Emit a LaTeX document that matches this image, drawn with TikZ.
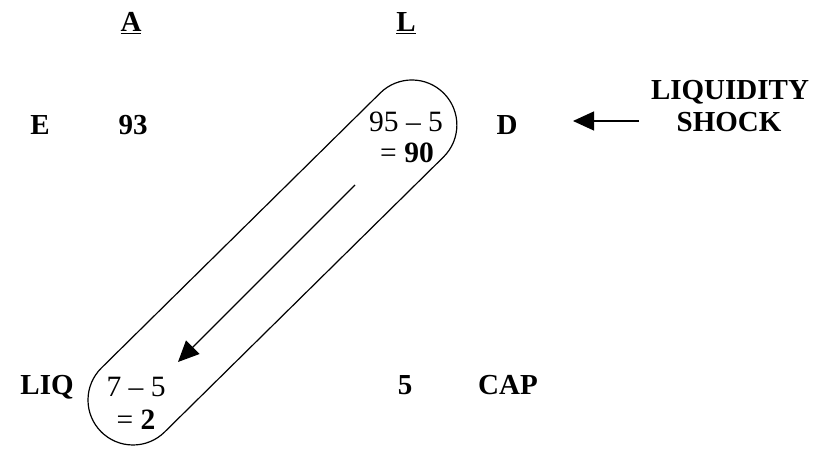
\documentclass[tikz,border=0pt]{standalone}
\usepackage{fontspec}
\setmainfont{Liberation Serif}
\usetikzlibrary{arrows.meta}
\begin{document}
\begin{tikzpicture}[x=1pt,y=1pt,
  lbl/.style={font=\fontsize{29}{32}\selectfont\bfseries, inner sep=0pt, anchor=base},
  num/.style={font=\fontsize{29.5}{32}\selectfont, inner sep=0pt, anchor=base},
  conn/.style={line width=1.2pt, -{Triangle[length=21pt,width=19pt]}},
  capsule/.style={line width=1.2pt}]
\useasboundingbox (0,0) rectangle (815,449);
% headers
\node[lbl] (A) at (131,417) {\underline{A}};
\node[lbl] (L) at (406,417) {\underline{L}};
% top row
\node[lbl] (E) at (40,314) {E};
\node[lbl] (n93) at (133,314) {93};
\node[num] (d1) at (406,317) {95 \textendash\ 5};
\node[num] (d2) at (407,286) {= \textbf{90}};
\node[lbl] (D) at (507,314) {D};
\node[lbl] (liq1) at (730,349) {LIQUIDITY};
\node[lbl] (liq2) at (729,317) {SHOCK};
% bottom row
\node[lbl] (LIQ) at (47,54) {LIQ};
\node[num] (l1) at (136,52) {7 \textendash\ 5};
\node[num] (l2) at (136,19) {= \textbf{2}};
\node[lbl] (n5) at (405,54) {5};
\node[lbl] (CAP) at (508,54) {CAP};
% capsule
\draw[capsule, shift={(133,49)}, rotate=44.6, rounded corners=45pt] (-45,-45) rectangle (436.7,45);
% arrows
\coordinate (s1) at (639,328);
\coordinate (s2) at (573,328);
\draw[conn] (s1) -- (s2);
\coordinate (t1) at (355,264);
\coordinate (t2) at (178,87);
\draw[conn] (t1) -- (t2);
\end{tikzpicture}
\end{document}
